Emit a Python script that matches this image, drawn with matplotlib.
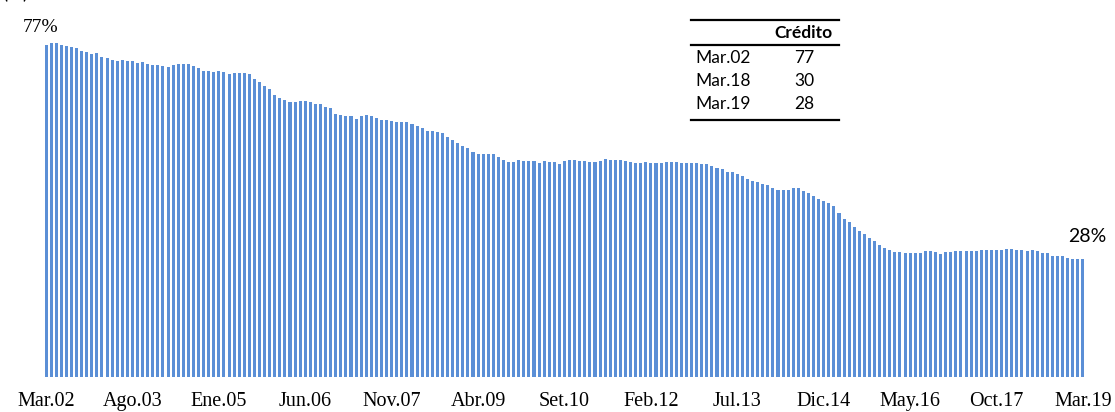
import numpy as np
import matplotlib.pyplot as plt
from matplotlib.lines import Line2D

# Credit share, monthly Mar.02 - Mar.19 (%)
credito = [
    77.0, 77.6, 77.5, 77.0, 76.8, 76.6, 76.3, 75.8, 75.5, 75.1, 75.2, 74.4,
    74.0, 73.7, 73.5, 73.6, 73.3, 73.3, 73.0, 73.1, 72.6, 72.5, 72.4, 72.2,
    72.1, 72.4, 72.6, 72.8, 72.8, 72.3, 71.8, 71.1, 71.1, 70.9, 71.0, 70.9,
    70.3, 70.6, 70.5, 70.7, 70.4, 69.3, 68.4, 67.6, 67.0, 65.6, 64.8, 64.4,
    63.9, 63.9, 64.2, 64.2, 63.9, 63.4, 63.5, 62.8, 62.4, 61.1, 60.9, 60.7,
    60.5, 59.9, 60.6, 60.8, 60.6, 60.1, 59.6, 59.8, 59.5, 59.3, 59.3, 59.2,
    58.8, 58.2, 57.8, 57.1, 57.2, 56.9, 56.7, 55.7, 55.0, 54.4, 53.7, 53.1,
    52.3, 51.8, 51.8, 51.7, 51.7, 51.2, 50.4, 50.0, 50.0, 50.3, 50.2, 50.2,
    50.1, 49.8, 50.2, 50.0, 50.0, 49.5, 50.2, 50.5, 50.3,
    50.2, 50.1, 50.0, 50.0, 50.2, 50.6, 50.4, 50.4, 50.5, 50.2, 50.0, 49.7,
    49.8, 50.0, 49.7, 49.7, 49.8, 50.0, 49.9, 49.9, 49.8, 49.8, 49.7, 49.7,
    49.5, 49.4, 49.1, 48.6, 48.2, 47.7, 47.5, 47.1, 46.7, 46.0, 45.5,
    45.2, 44.9, 44.6, 44.0, 43.4, 43.5, 43.5, 43.8, 43.8, 43.2, 42.7, 42.0,
    41.3, 40.8, 40.4, 39.8, 38.1, 36.8, 36.0, 34.8, 34.0, 33.1, 32.2, 31.5,
    30.6, 29.9, 29.5, 29.1, 29.1, 28.8, 28.8, 28.8, 28.9, 29.2,
    29.3, 29.1, 28.6, 29.0, 29.1, 29.2, 29.2, 29.2, 29.3, 29.3, 29.5, 29.4,
    29.5, 29.5, 29.6, 29.8, 29.8, 29.6, 29.5, 29.3, 29.4, 29.2, 28.9, 28.8,
    28.2, 28.1, 28.0, 27.6, 27.3, 27.3, 27.5,
]
tick_labels = ['Mar.02', 'Ago.03', 'Ene.05', 'Jun.06', 'Nov.07', 'Abr.09', 'Set.10',
               'Feb.12', 'Jul.13', 'Dic.14', 'May.16', 'Oct.17', 'Mar.19']
first_label = '77%'
last_label = '28%'

table_rows = ['Mar.02', 'Mar.18', 'Mar.19']
table_vals = [77, 30, 28]

W, H = 1115, 412
fig = plt.figure(figsize=(W / 100, H / 100), dpi=100)
ax = fig.add_axes([43.5 / W, 35 / H, 1042 / W, 366 / H])

x = np.arange(len(credito))
ax.bar(x, credito, width=0.6, color='#5B8FD6', linewidth=0)
ax.set_xlim(-0.5, len(credito) - 0.5)
ax.set_ylim(0, 85)

step = (len(credito) - 1) // (len(tick_labels) - 1)
ax.set_xticks(x[::step])
ax.set_xticklabels(tick_labels, family='Liberation Serif', fontsize=14.5)
ax.tick_params(axis='x', length=0, pad=11)
ax.set_yticks([])
for s in ax.spines.values():
    s.set_visible(False)

ax.annotate(first_label, (x[0], credito[0]), xytext=(-4, 7), textcoords='offset points',
            ha='center', va='bottom', family='Liberation Serif', fontsize=14)
ax.annotate(last_label, (x[-1], credito[-1]), xytext=(3, 10), textcoords='offset points',
            ha='center', va='bottom', family='Lato', fontsize=14)

# partially visible unit label at top-left
fig.text(2 / W, 1 + 2 / H, '(%)', family='Lato', fontsize=14, va='baseline')

# small table top right
def fy(py):
    return 1 - py / H

x0, x1 = 691 / W, 839 / W
for py in (20, 45, 120):
    fig.add_artist(Line2D([x0, x1], [fy(py), fy(py)], color='black', lw=1.6))
fig.text(803 / W, fy(33), 'Crédito', ha='center', va='center', family='Lato',
         fontweight='bold', fontsize=12.5)
for i, (r, v) in enumerate(zip(table_rows, table_vals)):
    yy = fy(58 + 23 * i)
    fig.text(695 / W, yy, r, ha='left', va='center', family='Lato', fontsize=12.5)
    fig.text(804 / W, yy, str(v), ha='center', va='center', family='Lato', fontsize=12.5)

fig.savefig('out.png', dpi=100)
